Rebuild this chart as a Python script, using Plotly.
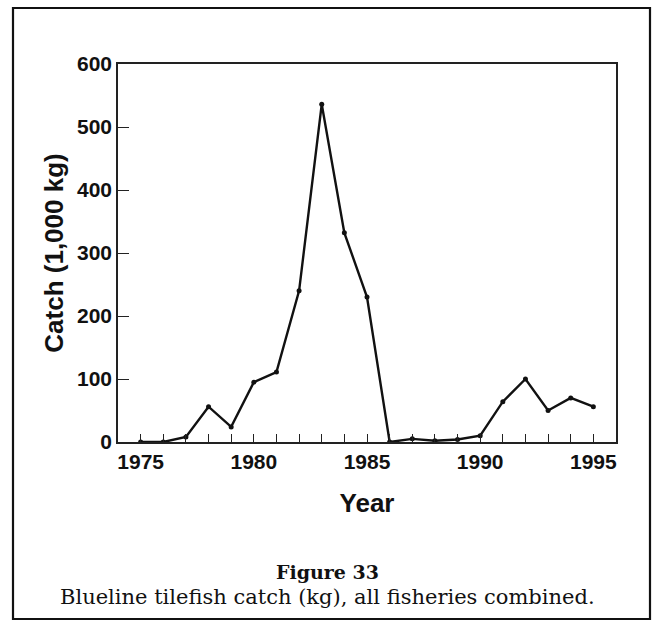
import plotly.graph_objects as go

# Blueline tilefish catch, all fisheries combined (thousands of kg)
years = list(range(1975, 1996))
catch = [0, 0, 8, 56, 24, 95, 111, 240, 536, 332, 230,
         0, 5, 2, 4, 10, 64, 100, 50, 70, 56]

x_ticks = [1975, 1980, 1985, 1990, 1995]
y_ticks = [0, 100, 200, 300, 400, 500, 600]

W, H = 655, 622
L, R, T, B = 118, 39, 64, 180
pw, ph = W - L - R, H - T - B


def px_x(p):
    return (p - L) / pw


def px_y(p):
    return (H - B - p) / ph


fig = go.Figure()
fig.add_trace(go.Scatter(
    x=years, y=catch, mode="lines+markers",
    line=dict(color="#111111", width=2.4),
    marker=dict(color="#111111", size=5),
    showlegend=False,
))

axis_font = dict(family="Liberation Sans, Arial, sans-serif", size=21, color="#111111", weight="bold")
title_font = dict(family="Liberation Sans, Arial, sans-serif", size=26, color="#111111")

fig.update_xaxes(
    range=[1974, 1996], tickvals=x_ticks, ticktext=[str(v) for v in x_ticks],
    ticks="inside", ticklen=8, tickwidth=1.3, tickcolor="#222",
    minor=dict(dtick=1, tick0=1975, ticks="inside", ticklen=8, tickwidth=1.3, tickcolor="#222"),
    showline=True, linecolor="#222", linewidth=1.6, mirror=True,
    showgrid=False, zeroline=False,
    tickfont=axis_font,
    title=dict(text="<b>Year</b>", font=title_font, standoff=22),
)
fig.update_yaxes(
    range=[0, 600], tickvals=y_ticks,
    ticks="inside", ticklen=11, tickwidth=1.3, tickcolor="#222",
    showline=True, linecolor="#222", linewidth=1.6, mirror=True,
    showgrid=False, zeroline=False,
    tickfont=axis_font,
    title=dict(text="<b>Catch (1,000 kg)</b>", font=title_font, standoff=6),
)

# Outer figure frame
fig.add_shape(type="rect", xref="paper", yref="paper",
              x0=px_x(13), x1=px_x(650), y0=px_y(619), y1=px_y(8),
              line=dict(color="#111111", width=2.2), fillcolor="rgba(0,0,0,0)")

serif = "DejaVu Serif, Liberation Serif, serif"
fig.add_annotation(xref="paper", yref="paper", x=px_x(327), y=px_y(572),
                   text="<b>Figure 33</b>", showarrow=False,
                   font=dict(family=serif, size=19, color="#111111"),
                   xanchor="center", yanchor="middle")
fig.add_annotation(xref="paper", yref="paper", x=px_x(327), y=px_y(597),
                   text="Blueline tilefish catch (kg), all fisheries combined.",
                   showarrow=False,
                   font=dict(family=serif, size=21, color="#111111"),
                   xanchor="center", yanchor="middle")

fig.update_layout(
    width=W, height=H,
    margin=dict(l=L, r=R, t=T, b=B),
    paper_bgcolor="white", plot_bgcolor="white",
)

fig.write_html("out.html")
